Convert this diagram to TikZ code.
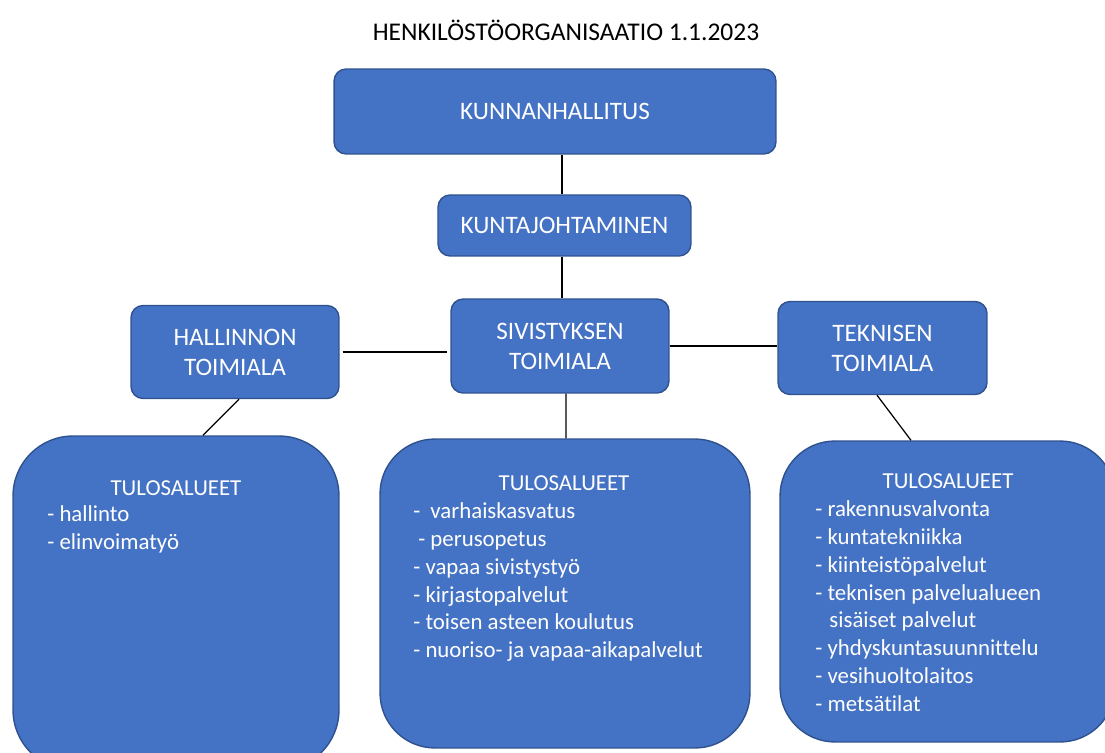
\documentclass[tikz,border=0pt]{standalone}
\usepackage{fontspec}
\setmainfont{Carlito}[Ligatures=NoCommon]
\definecolor{boxblue}{HTML}{4472C4}
\definecolor{boxline}{HTML}{2F528F}

\begin{document}
\begin{tikzpicture}[x=0.02cm, y=-0.02cm,
  every node/.style={text=white, font=\fontsize{14.3}{17}\selectfont},
  unit/.style={rectangle, rounded corners=0.24cm, draw=boxline, fill=boxblue, line width=0.8pt, align=center, inner sep=0pt},
  area/.style={rectangle, rounded corners=1.1cm, draw=boxline, fill=boxblue, line width=0.8pt, inner sep=0pt},
  list/.style={anchor=north west, align=left, inner sep=0pt, font=\fontsize{13}{15.9}\selectfont},
  link/.style={line width=0.7pt, black}]
  \useasboundingbox (0,0) rectangle (1105,753);
  \clip (0,0) rectangle (1105,753);

  \node[text=black, font=\fontsize{14.5}{17}\selectfont] (title) at (566,30) {HENKILÖSTÖORGANISAATIO 1.1.2023};

  \node[unit, minimum width=8.84cm, minimum height=1.70cm] (hallitus) at (555,111.5) {KUNNANHALLITUS};
  \node[unit, minimum width=5.06cm, minimum height=1.22cm] (johto)    at (564.5,225.5) {KUNTAJOHTAMINEN};
  \node[unit, minimum width=4.16cm, minimum height=1.86cm] (hallinto) at (235,352) {HALLINNON\\TOIMIALA};
  \node[unit, minimum width=4.36cm, minimum height=1.88cm] (sivistys) at (560,346) {SIVISTYKSEN\\TOIMIALA};
  \node[unit, minimum width=4.18cm, minimum height=1.86cm] (tekninen) at (882.5,348) {TEKNISEN\\TOIMIALA};

  \node[area, minimum width=6.52cm, minimum height=6.68cm, rounded corners=1.2cm] (alue_h) at (176,603) {};
  \node[area, minimum width=7.4cm, minimum height=6.18cm] (alue_s) at (565,593.5) {};
  \node[area, minimum width=6.7cm, minimum height=6.02cm] (alue_t) at (947.5,591.5) {};

  \node[list, anchor=center] (otsikko_h) at (176,488) {TULOSALUEET};
  \node[list, anchor=center] (otsikko_s) at (564,483) {TULOSALUEET};
  \node[list, anchor=center] (otsikko_t) at (948,481) {TULOSALUEET};

  \node[list] (lista_h) at (47,505) {- hallinto\\- elinvoimatyö};
  \node[list] (lista_s) at (413,502) {- \hspace{2.8pt}varhaiskasvatus\\\hspace{2.8pt}- perusopetus\\- vapaa sivistystyö\\- kirjastopalvelut\\- toisen asteen koulutus\\- nuoriso- ja vapaa-aikapalvelut};
  \node[list] (lista_t) at (815,500) {- rakennusvalvonta\\- kuntatekniikka\\- kiinteistöpalvelut\\- teknisen palvelualueen\\\hspace{8pt}sisäiset palvelut\\- yhdyskuntasuunnittelu\\- vesihuoltolaitos\\- metsätilat};

  \draw[link] ([xshift=-0.05cm]johto.north) -- ([xshift=-0.05cm]johto.north |- hallitus.south);
  \draw[link] ([xshift=-0.05cm]johto.south) -- ([xshift=-0.05cm]johto.south |- sivistys.north);
  \draw[link, shorten <=0.06cm, shorten >=0.06cm] (hallinto.east) -- (hallinto.east -| sivistys.west);
  \draw[link] (sivistys.east) -- (sivistys.east -| tekninen.west);
  \draw[link] ([xshift=0.08cm]hallinto.south) -- ([xshift=0.54cm]alue_h.north);
  \draw[link] ([xshift=0.12cm]sivistys.south) -- ([xshift=0.02cm]alue_s.north);
  \draw[link] ([xshift=-0.11cm]tekninen.south) -- ([xshift=-0.73cm]alue_t.north);
\end{tikzpicture}
\end{document}
